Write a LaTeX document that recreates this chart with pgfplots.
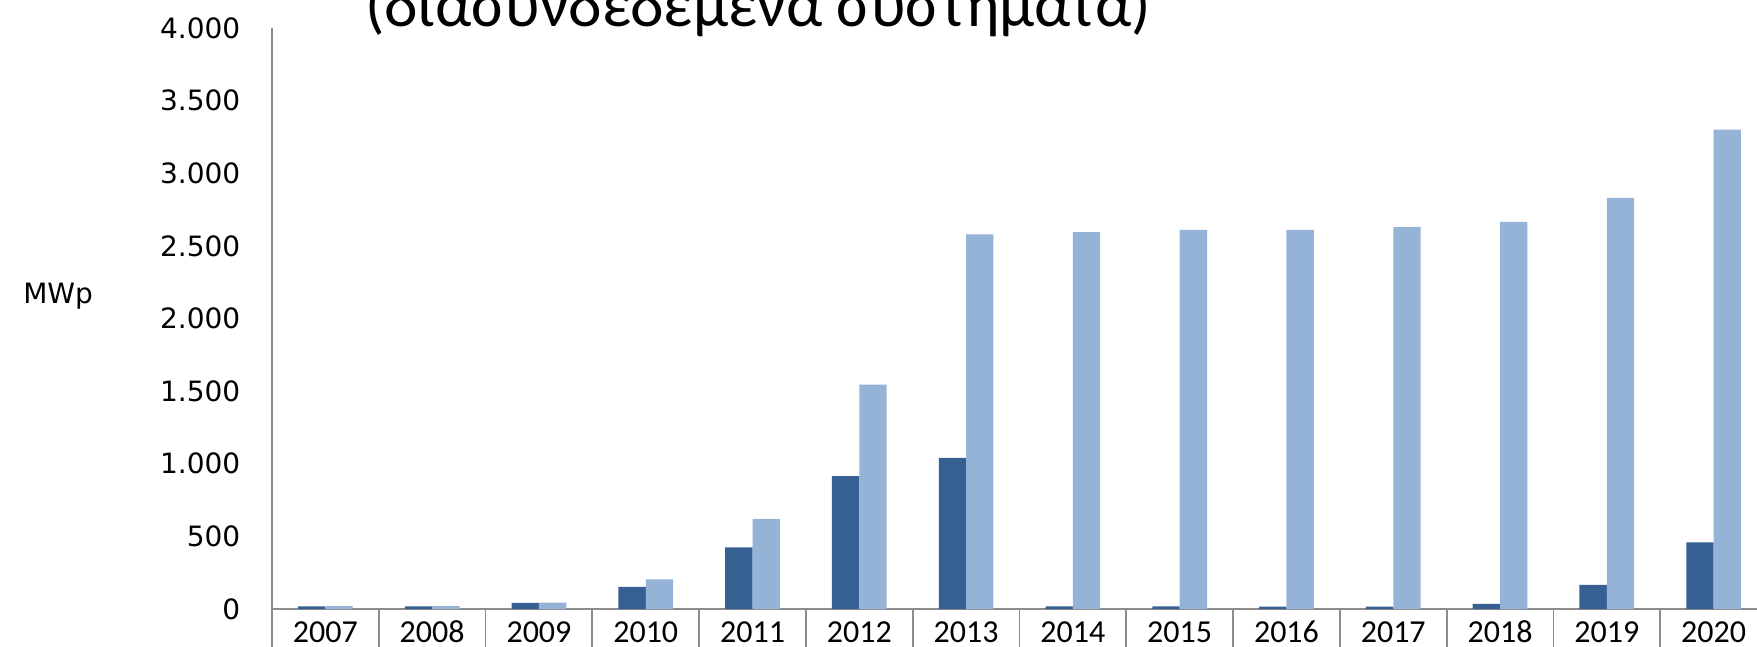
\documentclass[border=0pt]{standalone}
\usepackage{pgfplots}
\pgfplotsset{compat=1.18}
\usepackage{fontspec}
\setmainfont{Carlito}
\newfontfamily\verd{DejaVu Sans}

\definecolor{darkbar}{HTML}{376092}
\definecolor{lightbar}{HTML}{95B3D7}
\definecolor{axisgray}{HTML}{8C8C8C}

\begin{document}
\begin{tikzpicture}
\begin{scope}
\clip (-68pt,-9.25pt) rectangle (371.25pt,152.25pt);
\begin{axis}[
    at={(0,0)}, anchor=south west,
    scale only axis,
    width=373.75pt, height=145.25pt,
    xmin=-0.5, xmax=13.5,
    ymin=0, ymax=4000,
    ybar=0pt, bar width=0.256,
    axis x line*=bottom, axis y line*=left,
    axis line style={-, draw=axisgray, line width=0.45pt},
    xtick={0,...,13},
    xticklabels={2007,2008,2009,2010,2011,2012,2013,2014,2015,2016,2017,2018,2019,2020},
    xticklabel style={font=\fontsize{8}{9}\selectfont, anchor=base, yshift=-8.4pt},
    minor xtick={-0.5,0.5,...,13.5},
    tick align=outside,
    major tick length=0pt,
    minor tick length=14pt,
    minor tick style={draw=axisgray, line width=0.45pt},
    ytick={0,500,...,4000},
    scaled y ticks=false,
    /pgf/number format/1000 sep={.},
    /pgf/number format/assume math mode=true,
    yticklabel style={font=\verd\fontsize{7}{8}\selectfont, inner sep=0pt, xshift=-7.75pt},
    ylabel={MWp},
    ylabel style={font=\verd\fontsize{7}{8}\selectfont, rotate=-90, anchor=center,
                  at={(axis description cs:-0.1431,0.5387)}},
    clip=false,
]
\addplot[fill=darkbar, draw=none] coordinates {
    (0,19) (1,19) (2,42) (3,152) (4,425) (5,915) (6,1040)
    (7,18) (8,18) (9,16) (10,17) (11,36) (12,166) (13,458)
};
\addplot[fill=lightbar, draw=none] coordinates {
    (0,20) (1,20) (2,44) (3,204) (4,620) (5,1545) (6,2580)
    (7,2595) (8,2610) (9,2610) (10,2630) (11,2665) (12,2830) (13,3300)
};
\end{axis}
\node[font=\fontsize{16}{19}\selectfont, anchor=base] at (121.5pt,145.6pt)
    {(διασυνδεδεμένα συστήματα)};
\end{scope}
\pgfresetboundingbox
\useasboundingbox (-68pt,-9.25pt) rectangle (371.25pt,152.25pt);
\end{tikzpicture}
\end{document}
